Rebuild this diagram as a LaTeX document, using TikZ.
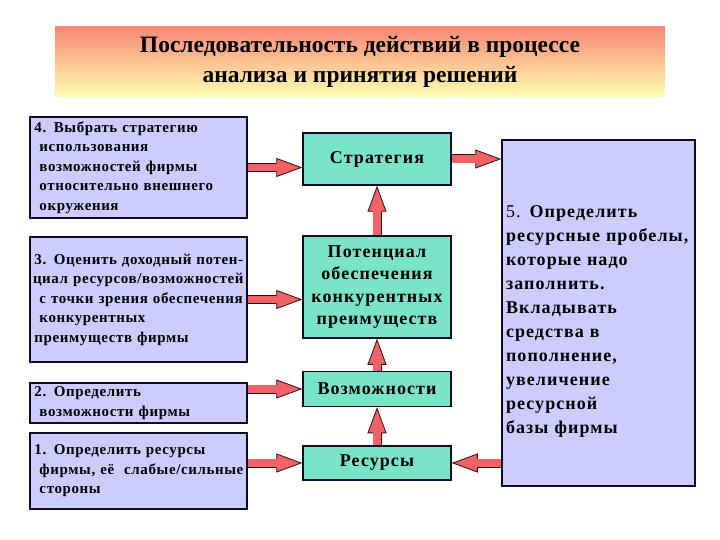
\documentclass[tikz,border=0pt]{standalone}
\usepackage{fontspec}
\setmainfont{Liberation Serif}
\newfontfamily\boxfont[LetterSpace=4]{Liberation Serif}
\newfontfamily\midfont[LetterSpace=6]{Liberation Serif}
\usetikzlibrary{arrows.meta}
\definecolor{lboxfill}{RGB}{204,204,255}
\definecolor{mboxfill}{RGB}{122,228,200}
\definecolor{boxline}{RGB}{12,12,40}
\definecolor{arrfill}{RGB}{238,98,104}
\definecolor{arrline}{RGB}{50,15,15}
\definecolor{ttltop}{RGB}{248,135,118}
\definecolor{ttlbot}{RGB}{255,255,178}
\tikzset{
  lbox/.style={draw=boxline, line width=1.5pt, fill=lboxfill, minimum width=217pt,
    text width=216pt, inner xsep=0.5pt, align=left,
    font=\boxfont\bfseries\fontsize{15}{19.5}\selectfont},
  mbox/.style={draw=boxline, line width=1.5pt, fill=mboxfill, minimum width=148pt,
    align=center, font=\midfont\bfseries\fontsize{18}{22.5}\selectfont},
  rbox/.style={draw=boxline, line width=1.5pt, fill=lboxfill, minimum width=193pt,
    minimum height=346pt, text width=185pt, inner xsep=4pt, align=left,
    font=\midfont\bfseries\fontsize{18}{24}\selectfont},
  ttl/.style={minimum width=610pt, minimum height=70pt, top color=ttltop,
    bottom color=ttlbot, align=center, font=\bfseries\fontsize{23.5}{30}\selectfont},
  arrback/.style={line width=9pt, draw=arrline,
    -{Triangle[length=26pt,width=19pt,line width=0.8pt,fill=arrfill]}},
  arrfront/.style={line width=7.4pt, draw=arrfill, shorten >=22pt},
}
\newcommand{\blockarr}[2]{\draw[arrback] #1 -- #2; \draw[arrfront] #1 -- #2;}
\begin{document}
\begin{tikzpicture}[x=1pt, y=-1pt]
  \useasboundingbox[fill=white] (0,0) rectangle (720,540);
  % title
  \node[ttl] (title) at (360,62) {Последовательность действий в процессе\\анализа и принятия решений};
  % steps on the left
  \node[lbox, minimum height=101pt] (s4) at (138.5,167.5) {\hspace*{4pt}4. Выбрать стратегию\\
    \hspace*{9pt}использования\\ \hspace*{9pt}возможностей фирмы\\
    \hspace*{9pt}относительно внешнего\\ \hspace*{9pt}окружения};
  \node[lbox, minimum height=125pt] (s3) at (138.5,299.5) {\hspace*{4pt}3. Оценить доходный потен-\\
    \hspace*{2.5pt}циал ресурсов/возможностей\\ \hspace*{9pt}с точки зрения обеспечения\\
    \hspace*{9pt}конкурентных\\ \hspace*{4pt}преимуществ фирмы};
  \node[lbox, minimum height=40pt] (s2) at (138.5,403) {\hspace*{4pt}2. Определить\\
    \hspace*{9pt}возможности фирмы};
  \node[lbox, minimum height=76pt] (s1) at (138.5,471) {\hspace*{4pt}1. Определить ресурсы\\
    \hspace*{9pt}фирмы, её\ \ слабые/сильные\\ \hspace*{9pt}стороны};
  % middle column
  \node[mbox, minimum height=52pt] (strat) at (377,159) {Стратегия};
  \node[mbox, minimum height=102pt] (pot) at (377,287) {Потенциал\\обеспечения\\конкурентных\\преимуществ};
  \node[mbox, minimum height=35pt] (poss) at (377,389) {Возможности};
  \node[mbox, minimum height=34pt] (res) at (377,463) {Ресурсы};
  % step 5
  \node[rbox] (gap) at (598.5,313) {\rule{0pt}{28pt}{\mdseries 5.} Определить\\ ресурсные пробелы,\\
    которые надо\\ заполнить.\\ Вкладывать\\ средства в\\ пополнение,\\
    увеличение\\ ресурсной\\ базы фирмы};
  % arrows
  \blockarr{(s4.east)}{(s4.east -| strat.west)}
  \blockarr{(s3.east)}{(s3.east -| pot.west)}
  \blockarr{(poss.west -| s2.east)}{(poss.west)}
  \blockarr{(res.west -| s1.east)}{(res.west)}
  \blockarr{(pot.north)}{(strat.south)}
  \blockarr{(poss.north)}{(pot.south)}
  \blockarr{(res.north)}{(poss.south)}
  \blockarr{(strat.east)}{(strat.east -| gap.west)}
  \blockarr{(gap.west |- res.east)}{(res.east)}
\end{tikzpicture}
\end{document}
